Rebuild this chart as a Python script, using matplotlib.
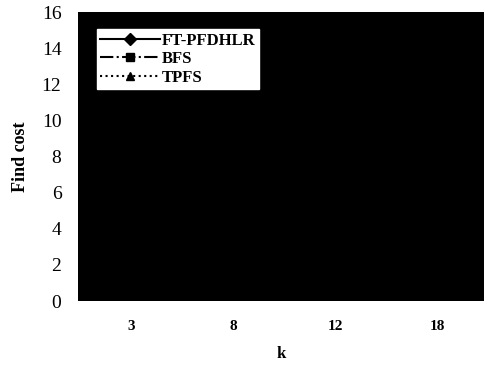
import matplotlib.pyplot as plt

# values (the plot area is nearly black, so these are estimates)
k_labels = ['3', '8', '12', '18']
ft_pfdhlr = [0.5, 0.7, 0.9, 1.1]
bfs = [1.5, 2.5, 3.8, 5.5]
tpfs = [1.0, 1.4, 1.8, 2.4]

plt.rcParams['font.family'] = ['Liberation Serif', 'DejaVu Serif']

fig = plt.figure(figsize=(4.88, 3.68), dpi=100)
ax = fig.add_axes([0.16, 0.182, 0.832, 0.785])
ax.set_facecolor('black')

x = range(len(k_labels))
ax.plot(x, ft_pfdhlr, color='black', linestyle='-', marker='D', markersize=6, label='FT-PFDHLR')
ax.plot(x, bfs, color='black', linestyle='-.', marker='s', markersize=6, label='BFS')
ax.plot(x, tpfs, color='black', linestyle=':', marker='^', markersize=6, label='TPFS')

ax.set_xlim(-0.52, 3.46)
ax.set_ylim(0, 16)
ax.set_yticks(range(0, 17, 2))
ax.set_xticks(list(x))
ax.set_xticklabels(k_labels, fontweight='bold')
ax.tick_params(axis='y', length=0, pad=12, labelsize=14)
ax.tick_params(axis='x', length=0, pad=14, labelsize=11)
for s in ax.spines.values():
    s.set_visible(False)

ax.set_xlabel('k', fontsize=12, fontweight='bold', labelpad=9)
ax.set_ylabel('Find cost', fontsize=13, fontweight='bold', labelpad=9)

leg = ax.legend(loc='upper left', bbox_to_anchor=(0.047, 0.94), frameon=True, fancybox=False,
                borderpad=0.2, labelspacing=0.15, handlelength=3.6, handletextpad=0.1,
                borderaxespad=0, prop={'weight': 'bold', 'size': 12})
leg.get_frame().set_facecolor('white')
leg.get_frame().set_edgecolor('white')
leg.get_frame().set_alpha(1)

fig.savefig('out.png', dpi=100, facecolor='white')
